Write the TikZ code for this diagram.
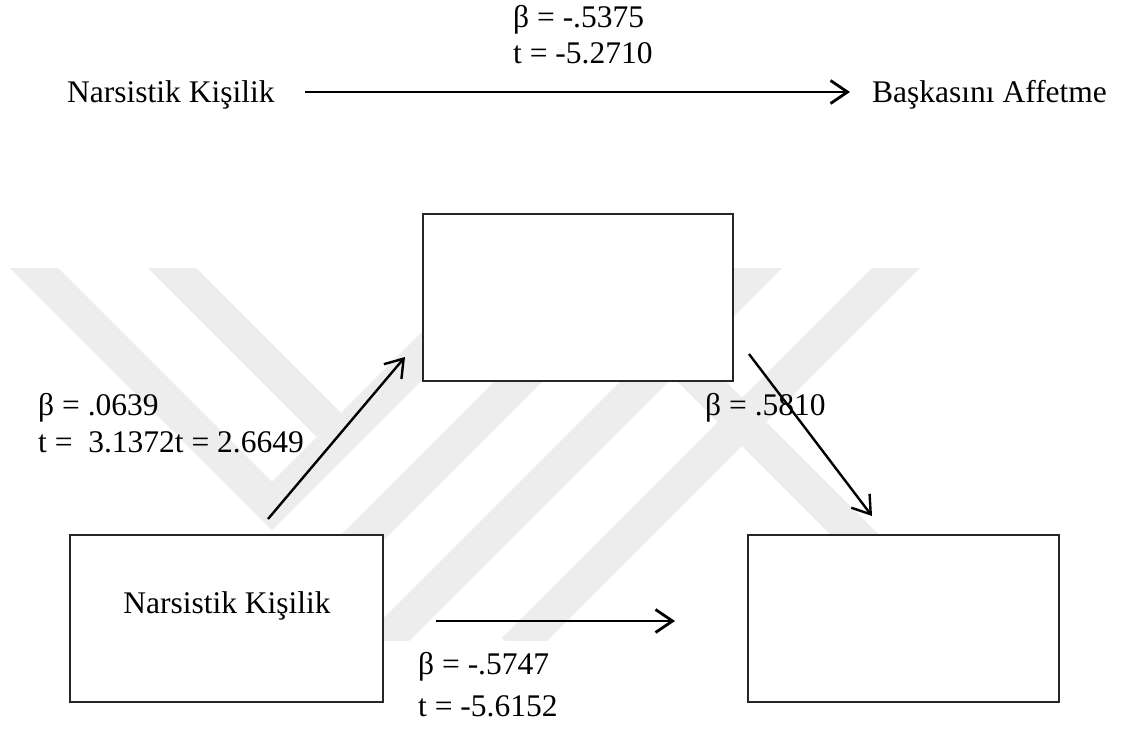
\documentclass[tikz,border=0pt]{standalone}
\usepackage{fontspec}
\setmainfont{Liberation Serif}
\usetikzlibrary{arrows.meta}
\definecolor{wm}{HTML}{EDEDED}
\begin{document}
\begin{tikzpicture}[x=1pt,y=-1pt,
  box/.style={draw=black!85,line width=1.3pt,fill=white,inner sep=0pt},
  lbl/.style={anchor=base west,inner sep=0pt,font=\fontsize{31.5}{36}\selectfont},
  arr/.style={line width=2.4pt,-{Straight Barb[length=17pt,width=23pt]}},
  harr/.style={line width=2.8pt,-{Straight Barb[length=17pt,width=23pt]}},
  band/.style={draw=wm,line width=34pt,line join=miter,line cap=butt}]
\useasboundingbox (0,0) rectangle (1126,734);
\fill[white] (0,0) rectangle (1126,734);
% watermark
\begin{scope}
  \clip (0,268) rectangle (1126,640);
  \draw[band] (-20,214) -- (272,506) -- (564,214);
  \draw[band] (118,214) -- (341,437);
  \draw[band] (250,650) -- (686,214);
  \draw[band] (812,214) -- (376,650);
  \draw[band] (950,214) -- (514,650);
  \draw[band] (673,353) -- (970,650);
\end{scope}
% top row
\node[lbl] (b0) at (513,27) {β = -.5375};
\node[lbl] (t0) at (513,63) {t = -5.2710};
\node[lbl] (nk0) at (67,102) {Narsistik Kişilik};
\node[lbl] (ba0) at (872,102) {Başkasını Affetme};
\coordinate (a0s) at (305,92);
\coordinate (a0e) at (850,92);
\draw[harr] (a0s) -- (a0e);
% boxes
\node[box,minimum width=310pt,minimum height=167pt] (med) at (578,297.5) {};
\node[box,minimum width=313pt,minimum height=167pt] (nk) at (226.5,618.5) {};
\node[box,minimum width=311pt,minimum height=167pt] (out) at (903.5,618.5) {};
\node[anchor=base,inner sep=0pt,font=\fontsize{31.5}{36}\selectfont] (nktext) at (227,613) {Narsistik Kişilik};
% labels
\node[lbl] (b1) at (38,415) {β = .0639};
\node[lbl] (t1) at (38,452) {t =\ \ 3.1372t = 2.6649};
\node[lbl] (b2) at (705,415) {β = .5810};
\node[lbl] (b3) at (418,674) {β = -.5747};
\node[lbl] (t3) at (418,716) {t = -5.6152};
% arrows
\coordinate (a1s) at (268,519);
\coordinate (a1e) at (405,357);
\coordinate (a2s) at (749,354);
\coordinate (a2e) at (872,516);
\coordinate (a3s) at (436,621);
\coordinate (a3e) at (675,621);
\draw[arr] (a1s) -- (a1e);
\draw[arr] (a2s) -- (a2e);
\draw[harr] (a3s) -- (a3e);
\end{tikzpicture}
\end{document}
